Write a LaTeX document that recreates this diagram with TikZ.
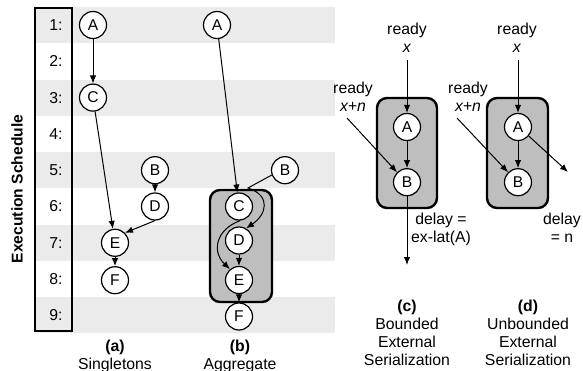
\documentclass[tikz,border=0pt]{standalone}
\usepackage{fontspec}
\setmainfont{Liberation Sans}
\usetikzlibrary{arrows.meta, positioning}
\definecolor{bandgray}{HTML}{EBEBEB}
\definecolor{boxgray}{HTML}{BEBEBE}

\begin{document}
\begin{tikzpicture}[ % one unit = one pixel of the original
        x=0.5pt, y=0.5pt,
        every node/.style={font=\fontsize{7.9}{9}\selectfont, align=center, inner sep=0pt}, % Default text style
        mycirc/.style={circle, draw, line width=0.6pt, fill=white, minimum size=13.5pt, font=\fontsize{7.8}{8}\selectfont}, % Operation nodes
        mybox/.style={draw, line width=1.2pt, rounded corners=5pt, fill=boxgray}, % Aggregate frame
        myarrow/.style={-{Latex[length=4pt,width=3.2pt]}, line width=0.5pt} % Arrows
    ]
    \useasboundingbox (0,0) rectangle (583,370);
    % --- Execution schedule (rows) ---
    \foreach \k in {1,3,...,9}
        \fill[bandgray] (35,{345-36.3*(\k-1)-18}) rectangle (335,{345-36.3*(\k-1)+18});
    \draw[line width=0.6pt] (35,39) rectangle (72,362);
    \foreach \k in {1,...,9}
        \node[anchor=east] (r\k) at (63,{345-36.3*(\k-1)}) {\k:};
    \node[rotate=90, font=\fontsize{7.8}{9}\selectfont\bfseries] (sched) at (17,181) {Execution Schedule};
    % --- (a) Singletons ---
    \node[mycirc] (aA) at (93,345) {A};
    \node[mycirc] (aC) at (93,272.4) {C};
    \node[mycirc] (aB) at (155,199.8) {B};
    \node[mycirc] (aD) at (155,163.5) {D};
    \node[mycirc] (aE) at (115,127.2) {E};
    \node[mycirc, below=4.6pt of aE] (aF) {F};
    \draw[myarrow] (aA) -- (aC);
    \draw[myarrow] (aC) -- (aE);
    \draw[myarrow] (aB) -- (aD);
    \draw[myarrow] (aD.south) -- (aE.north east);
    \draw[myarrow] (aE) -- (aF);
    \node (alab) at (115,14) {\textbf{(a)}\\Singletons};
    % --- (b) Aggregate ---
    \node[mycirc] (bA) at (217,345) {A};
    \node[mycirc] (bB) at (285,199.8) {B};
    \draw[mybox] (210,68) rectangle (272,180);
    \node[mycirc] (bC) at (239,163.5) {C};
    \node[mycirc] (bD) at (239,129.5) {D};
    \node[mycirc] (bE) at (239,90) {E};
    \node[mycirc] (bF) at (239,53.5) {F};
    \draw[myarrow] (bA) -- (bC);
    \draw[myarrow] (bB.200) -- (248,182) .. controls (272,174) and (266,155) .. (bD.60);
    \draw[myarrow] (bC.275) .. controls (215,140) and (212,118) .. (bE.130);
    \draw[myarrow] (bD) -- (bE);
    \draw[myarrow] (bE) -- (bF);
    \node (blab) at (240,14) {\textbf{(b)}\\Aggregate};
    % --- (c) Bounded external serialization ---
    \draw[mybox] (377,162) rectangle (437,272);
    \node[mycirc] (cA) at (407,243) {A};
    \node[mycirc, below=13.5pt of cA] (cB) {B};
    \node (cRx) at (407,332.5) {ready\\\textit{x}};
    \node (cRn) at (353,273.5) {ready\\\textit{x+n}};
    \coordinate (cInA) at (407,310);
    \coordinate (cInB) at (347,252);
    \coordinate (cOut) at (407,105);
    \draw[myarrow] (cInA) -- (cA);
    \draw[myarrow] (cInB) -- (cB.135);
    \draw[myarrow] (cA) -- (cB);
    \draw[myarrow] (cB) -- (cOut);
    \node (cDel) at (441,141) {delay =\\ex-lat(A)};
    \node (clab) at (407,37.5) {\textbf{(c)}\\Bounded\\External\\Serialization};
    % --- (d) Unbounded external serialization ---
    \draw[mybox] (487,162) rectangle (548,272);
    \node[mycirc] (dA) at (518,243) {A};
    \node[mycirc, below=13.5pt of dA] (dB) {B};
    \node (dRx) at (517,332.5) {ready\\\textit{x}};
    \node (dRn) at (468,273.5) {ready\\\textit{x+n}};
    \coordinate (dInA) at (518,310);
    \coordinate (dInB) at (457,252);
    \coordinate (dOut) at (568,198);
    \draw[myarrow] (dInA) -- (dA);
    \draw[myarrow] (dInB) -- (dB.135);
    \draw[myarrow] (dA) -- (dB);
    \draw[myarrow] (dA.-40) -- (dOut);
    \node (dDel) at (562,142.5) {delay\\= n};
    \node (dlab) at (528,37.5) {\textbf{(d)}\\Unbounded\\External\\Serialization};
\end{tikzpicture}
\end{document}
